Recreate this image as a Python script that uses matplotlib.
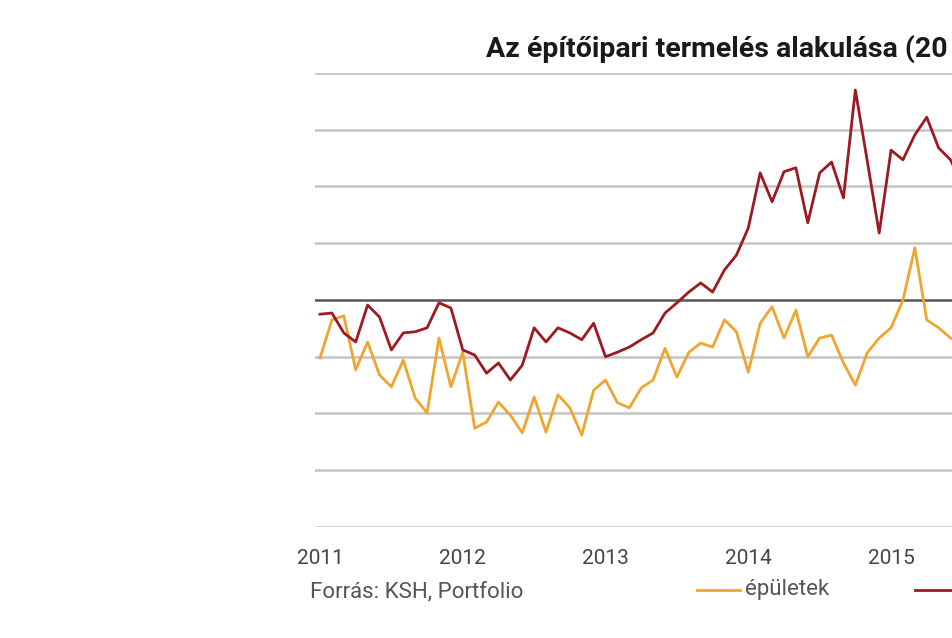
import numpy as np
import matplotlib
matplotlib.use("Agg")
import matplotlib.pyplot as plt
from matplotlib.lines import Line2D

plt.rcParams['font.family'] = ['Roboto', 'DejaVu Sans']

# havi adatok, 2011 januártól (2011 = 100 körüli index)
months = np.arange(55)
epuletek = [89.8, 96.5, 97.2, 87.7, 92.6, 86.8, 84.7, 89.4, 82.7, 80.1, 93.3, 84.7,
            90.8, 77.4, 78.5, 82.0, 79.7, 76.6, 82.9, 76.7, 83.3, 81.0, 76.2, 84.1,
            85.9, 81.9, 81.0, 84.5, 85.9, 91.5, 86.4, 90.8, 92.4, 91.7, 96.5, 94.4,
            87.3, 95.9, 98.8, 93.3, 98.2, 90.0, 93.3, 93.8, 88.9, 85.0, 90.7, 93.3,
            95.1, 100.0, 109.2, 96.5, 95.1, 93.3, 92.1]
egyeb = [97.5, 97.7, 94.2, 92.6, 99.1, 97.0, 91.2, 94.2, 94.4, 95.1, 99.5, 98.6,
         91.2, 90.3, 87.1, 88.9, 85.9, 88.5, 95.1, 92.6, 95.1, 94.2, 93.0, 95.9,
         90.0, 90.8, 91.7, 93.0, 94.2, 97.7, 99.5, 101.4, 103.0, 101.4, 105.3, 107.9,
         112.7, 122.4, 117.3, 122.6, 123.3, 113.6, 122.4, 124.3, 118.0, 137.0, 124.5, 111.8,
         126.4, 124.7, 129.1, 132.2, 126.8, 124.7, 120.3]
year_ticks = [0, 12, 24, 36, 48]
year_labels = ['2011', '2012', '2013', '2014', '2015']
grid_levels = [60, 70, 80, 90, 110, 120, 130, 140]

orange = '#f0a530'
red = '#9c1a22'

fig = plt.figure(figsize=(9.52, 6.38), dpi=100)
fig.patch.set_facecolor('white')
# a kép jobb oldalon le van vágva, a tengely túlnyúlik rajta
ax = fig.add_axes([0.3309, 0.174, 0.880, 0.7116])

for lv in grid_levels:
    ax.axhline(lv, color='#c4c4c4', lw=1.8, zorder=1)
ax.axhline(100, color='#555555', lw=1.8, zorder=1)

ax.plot(months, epuletek, color=orange, lw=2, zorder=3)
ax.plot(months, egyeb, color=red, lw=2, zorder=3)

ax.set_xlim(-0.42, 70)
ax.set_ylim(60, 140)
ax.set_xticks(year_ticks)
ax.set_xticklabels(year_labels, fontsize=15, color='#444444')
ax.tick_params(axis='x', length=0, pad=16)
ax.set_yticks([])
for s in ax.spines.values():
    s.set_visible(False)

fig.text(486 / 952, 1 - 49 / 638, 'Az építőipari termelés alakulása (20',
         fontsize=20.5, fontweight='bold', color='#1a1a1a', ha='left', va='center')
fig.text(310 / 952, 1 - 592 / 638, 'Forrás: KSH, Portfolio',
         fontsize=16, color='#555555', ha='left', va='center')

fig.add_artist(Line2D([697 / 952, 740 / 952], [1 - 590 / 638] * 2, color=orange, lw=2))
fig.text(745 / 952, 1 - 589 / 638, 'épületek', fontsize=16, color='#555555',
         ha='left', va='center')
fig.add_artist(Line2D([915 / 952, 958 / 952], [1 - 590 / 638] * 2, color=red, lw=2))

fig.savefig('out.png', dpi=100, facecolor='white')
